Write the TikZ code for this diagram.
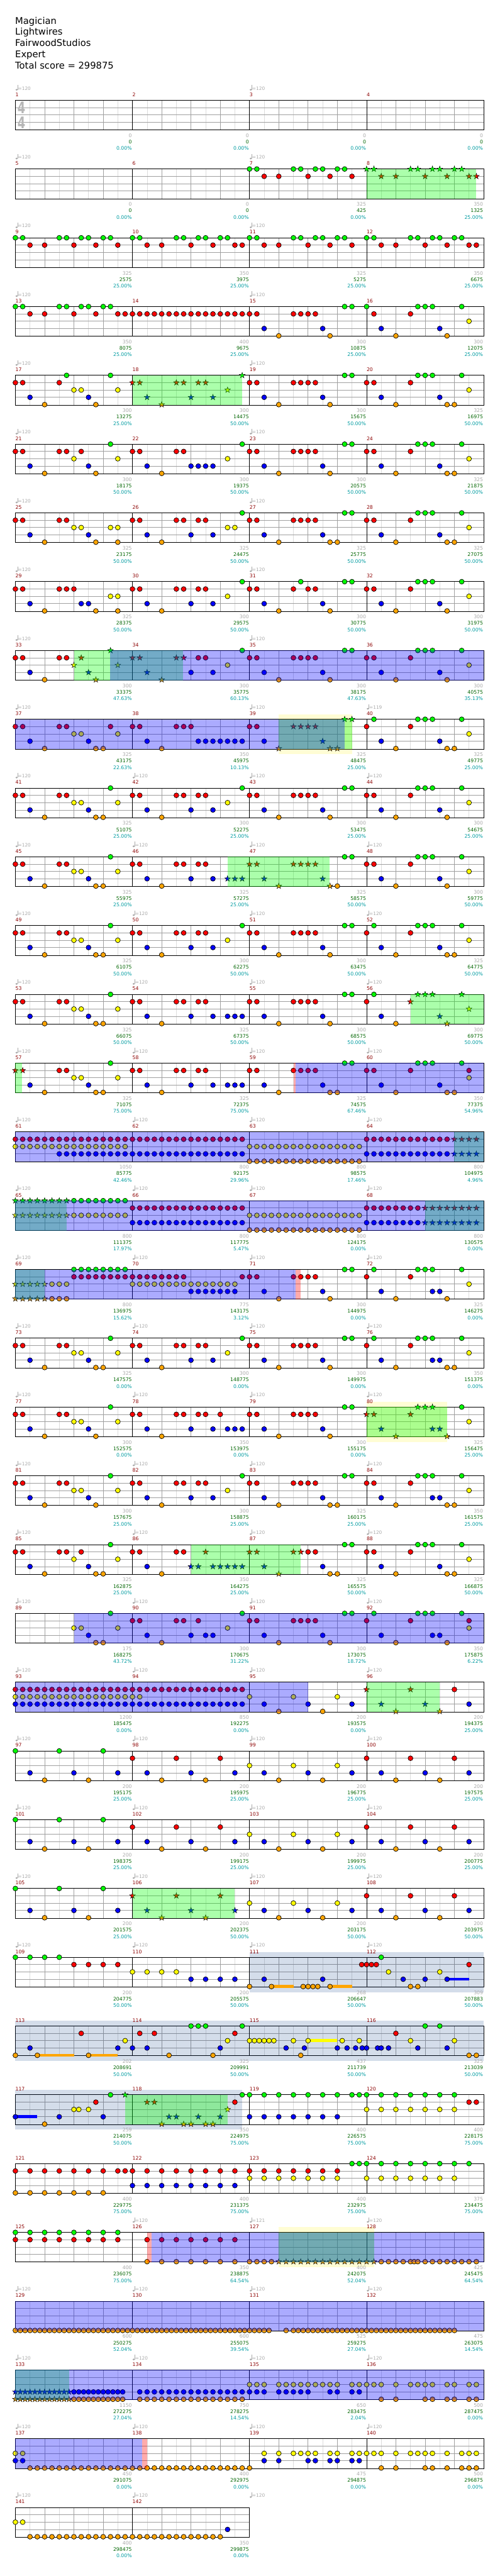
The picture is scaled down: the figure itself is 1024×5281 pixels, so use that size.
\documentclass[tikz,border=0pt]{standalone}
\usepackage{fontspec}
\setmainfont{DejaVu Sans}
\definecolor{fretgreen}{RGB}{0,255,0}
\definecolor{fretred}{RGB}{255,0,0}
\definecolor{fretyellow}{RGB}{255,255,0}
\definecolor{fretblue}{RGB}{0,0,255}
\definecolor{fretorange}{RGB}{255,165,0}
\definecolor{beatgray}{RGB}{160,160,160}
\definecolor{halfgray}{RGB}{220,220,220}
\definecolor{basegray}{RGB}{169,169,169}
\definecolor{scoregreen}{RGB}{0,100,0}
\definecolor{pcteal}{RGB}{0,155,160}
\definecolor{barred}{RGB}{139,0,0}
\definecolor{soloblue}{RGB}{0,51,128}
\tikzset{
  laneline/.style={draw=beatgray, line width=0.9pt},
  beatline/.style={draw=beatgray, line width=0.8pt},
  halfline/.style={draw=halfgray, line width=0.8pt},
  barline/.style={draw=black, line width=0.8pt},
  staffbox/.style={draw=black, line width=1.2pt},
  gem/.style={draw=black, line width=0.9pt, fill=#1},
  gemstar/.style={draw=black, line width=0.6pt, fill=#1},
  phrasezone/.style={fill=green, fill opacity=0.33},
  spzone/.style={fill=blue, fill opacity=0.33},
  leadzone/.style={fill=red, fill opacity=0.33},
  solozone/.style={fill=soloblue, fill opacity=0.17},
  hintzone/.style={fill=yellow, fill opacity=0.17},
  basetxt/.style={font=\fontsize{10}{10}\selectfont, text=basegray, inner sep=0pt, anchor=base east},
  scoretxt/.style={font=\fontsize{10}{10}\selectfont, text=scoregreen, inner sep=0pt, anchor=base east},
  pcttxt/.style={font=\fontsize{10}{10}\selectfont, text=pcteal, inner sep=0pt, anchor=base east},
  bartxt/.style={font=\fontsize{10}{10}\selectfont, text=barred, inner sep=0pt, anchor=base west},
  tempotxt/.style={font=\fontsize{9.5}{10}\selectfont, text=basegray, inner sep=0pt, anchor=base west},
  headtxt/.style={font=\fontsize{19}{23}\selectfont, inner sep=0pt, anchor=base west},
  sigtxt/.style={font=\bfseries\fontsize{33}{33}\selectfont, text=basegray!85, inner sep=0pt, transform shape, xscale=0.7}
}
\newcommand{\staff}[2]{%
  \pgfmathsetmacro\rowtop{205.5+141*#1}%
  \foreach \beat in {2,6,...,#2} \draw[halfline] (31.5+15*\beat,\rowtop) -- (31.5+15*\beat,\rowtop+61);
  \foreach \beat in {4,8,...,#2} \draw[beatline] (31.5+15*\beat,\rowtop) -- (31.5+15*\beat,\rowtop+61);
  \foreach \lane in {1,2,3} \draw[laneline] (31.5,\rowtop+15*\lane) -- (31.5+15*#2,\rowtop+15*\lane);
  \foreach \beat in {16,32,...,#2} \draw[barline] (31.5+15*\beat,\rowtop) -- (31.5+15*\beat,\rowtop+61);
  \draw[staffbox] (31.5,\rowtop) rectangle (31.5+15*#2,\rowtop+61);}
\newcommand{\gemlane}[3]{%
  \def\gemlist{#3}%
  \ifx\gemlist\empty\else
    \foreach \pos in {#3}{%
      \ifdim\pos pt<\starfrom pt
        \draw[gem=#2] (31.5+15*\pos,\rowtop+15*#1) circle (5);
      \else\ifdim\pos pt>\starto pt
        \draw[gem=#2] (31.5+15*\pos,\rowtop+15*#1) circle (5);
      \else
        \draw[gemstar=#2, shift={(31.5+15*\pos,\rowtop+15*#1)}] (90:6.2pt) -- (126:2.4pt) -- (162:6.2pt) -- (198:2.4pt) -- (234:6.2pt) -- (270:2.4pt) -- (306:6.2pt) -- (342:2.4pt) -- (18:6.2pt) -- (54:2.4pt) -- cycle;
      \fi\fi}%
  \fi}
\newcommand{\gems}[8]{%
  \pgfmathsetmacro\rowtop{205.5+141*#1}%
  \def\starfrom{#2}\def\starto{#3}%
  \gemlane{0}{fretgreen}{#4}\gemlane{1}{fretred}{#5}\gemlane{2}{fretyellow}{#6}\gemlane{3}{fretblue}{#7}\gemlane{4}{fretorange}{#8}}
\newcommand{\zone}[4]{\fill[#1] (31.5+15*#3,205.5+141*#2) rectangle (31.5+15*#4,266.5+141*#2);}
\newcommand{\tallzone}[4]{\fill[#1] (31.5+15*#3,195+141*#2) rectangle (31.5+15*#4,277+141*#2);}
\newcommand{\sustain}[5]{\fill[#3] (31.5+15*#4,202.5+141*#1+15*#2) rectangle (31.5+15*#5,208.5+141*#1+15*#2);}
\newcommand{\tally}[2]{%
  \foreach \basept/\scorept/\pct [count=\mi from 0] in {#2}{%
    \pgfmathtruncatemacro\barnum{4*#1+\mi+1}%
    \node[bartxt] (bar-\barnum) at (31.5+240*\mi,197.6+141*#1) {\barnum};
    \node[basetxt] (base-\barnum) at (30.5+240*\mi+240,281.5+141*#1) {\basept};
    \node[scoretxt] (score-\barnum) at (30.5+240*\mi+240,294.5+141*#1) {\scorept};
    \node[pcttxt] (pct-\barnum) at (30.5+240*\mi+240,308+141*#1) {\pct\%};}}
\newcommand{\tempos}[2]{%
  \foreach \slot/\bpm in {#2}{%
    \fill[basegray] (34+240*\slot,184+141*#1) ellipse (2.4 and 1.9);
    \draw[basegray, line width=0.8pt] (35.9+240*\slot,184+141*#1) -- (35.9+240*\slot,174.5+141*#1);
    \node[tempotxt] (tempo-#1-\slot) at (36.8+240*\slot,184.5+141*#1) {=\bpm};}}
\begin{document}
\begin{tikzpicture}[x=1pt,y=-1pt]
  \useasboundingbox (0,0) rectangle (1024,5281);
  \node[headtxt] (song) at (31,49) {Magician};
  \node[headtxt] (artist) at (31,72) {Lightwires};
  \node[headtxt] (charter) at (31,95) {FairwoodStudios};
  \node[headtxt] (level) at (31,118) {Expert};
  \node[headtxt] (total) at (31,141) {Total score = 299875};
  % rows of four bars
  \staff{0}{64}
  \node[sigtxt] (sigtop) at (44,221) {4};
  \node[sigtxt] (sigbot) at (44,251) {4};
  \staff{1}{64}
  \gems{1}{48}{63}{32,33,38,39,41,42,44,45,48,49,54,55,57,58,60,61}{34,36,40,43,46,50,52,56,59,62,63}{}{}{}
  \zone{phrasezone}{1}{48}{62.93}
  \staff{2}{64}
  \gems{2}{-1}{-1}{0,1,6,7,9,10,12,13,16,17,22,23,25,26,28,29,32,33,38,39,41,42,44,45,48,49,54,55,57,58,60,61}{2,4,8,11,14,18,20,24,27,30,31,34,36,40,43,46,50,52,56,59,62,63}{}{}{}
  \staff{3}{64}
  \gems{3}{-1}{-1}{0,1,6,7,9,10,12,13,45,46,48,55,56,57,61}{2,4,8,11,14,15,16,17,...,33,38,39,40,41,49,54}{62}{34,42,50,58}{36,43,52,59}
  \staff{4}{64}
  \gems{4}{16}{31}{7,13,31,45,46,55,56,57,61}{0,1,6,16,17,22,23,25,26,32,33,38,39,40,41,48,49,54}{8,9,14,29,62}{2,10,18,24,27,34,42,50,58}{4,11,20,36,43,52,59,60}
  \zone{phrasezone}{4}{16}{30.95}
  \staff{5}{64}
  \gems{5}{-1}{-1}{13,31,45,46,55,56,57,61}{0,1,6,7,9,16,17,22,23,32,33,38,39,40,41,48,49,54}{8,14,29,62}{2,10,18,24,25,26,27,34,42,50,58}{4,11,20,36,43,52,59,60}
  \staff{6}{64}
  \gems{6}{-1}{-1}{31,45,46,55,56,57,61}{0,1,6,7,16,17,22,23,25,26,32,33,38,39,40,41,48,49,54}{8,9,13,14,29,30,62}{2,10,18,24,27,34,42,50,58}{4,11,14,20,36,43,44,52,59,60}
  \staff{7}{64}
  \gems{7}{-1}{-1}{31,39,45,46,55,56,57,61}{0,1,6,7,8,16,17,22,23,25,26,32,33,38,40,41,48,49,54}{13,14,29,62}{2,9,10,18,24,27,34,42,50,58}{4,11,14,20,36,43,52,59}
  \staff{8}{64}
  \gems{8}{8}{23}{13,31,45,46,55,56,57,61}{0,1,6,7,9,16,17,22,23,25,26,32,33,38,39,40,41,48,49,54}{8,14,29,62}{2,10,18,24,27,34,42,50,58}{4,11,20,36,43,52,59}
  \zone{phrasezone}{8}{8}{22.94}
  \zone{spzone}{8}{12.95}{64}
  \staff{9}{64}
  \tallzone{hintzone}{9}{36}{46}
  \gems{9}{36}{46}{45,46,49,55,56,57,61}{0,1,6,7,13,16,17,22,23,24,32,33,38,39,40,41,48,54}{8,9,14,62}{2,10,18,25,26,...,31,34,42,50,58}{4,11,12,20,36,43,44,52,59,60}
  \zone{phrasezone}{9}{36}{46}
  \zone{spzone}{9}{0}{45}
  \staff{10}{64}
  \gems{10}{-1}{-1}{13,31,45,46,55,56,57,61}{0,1,6,7,16,17,22,23,25,26,32,33,38,39,40,41,48,49,54}{8,9,14,29,62}{2,10,18,24,27,34,42,50,58}{4,11,12,20,36,43,52,59}
  \staff{11}{64}
  \gems{11}{29}{43}{13,45,46,55,56,57,61}{0,1,6,7,16,17,22,23,25,26,32,33,38,39,40,41,48,49,54}{8,9,14,62}{2,10,18,24,27,29,30,31,34,42,50,58}{4,11,12,20,36,43,44,52,59}
  \zone{phrasezone}{11}{29}{42.95}
  \staff{12}{64}
  \gems{12}{-1}{-1}{13,31,45,46,49,55,56,57,61}{0,1,6,7,16,17,22,23,25,26,32,33,38,39,40,41,48,54}{8,9,14,29,62}{2,10,18,24,27,34,42,50,58}{4,11,12,20,36,43,52,59,60}
  \staff{13}{64}
  \gems{13}{54}{64}{13,45,46,49,55,56,57,61}{0,1,6,7,16,17,22,23,25,26,32,33,38,39,40,41,48,54}{8,9,14,62}{2,10,18,24,27,29,30,31,34,42,50,58}{4,11,12,20,36,43,52,59}
  \zone{phrasezone}{13}{54}{64}
  \staff{14}{64}
  \gems{14}{0}{1}{13,45,46,55,56,57,61}{0,1,6,7,16,17,22,23,25,26,32,33,38,39,40,41,48,49,54,62}{8,9,14,62}{2,10,18,24,27,29,30,31,34,42,50,58}{4,11,12,20,36,43,44,52,59,60}
  \zone{phrasezone}{14}{0}{0.9}
  \zone{leadzone}{14}{38}{38.3}
  \zone{spzone}{14}{38.3}{64}
  \staff{15}{64}
  \gems{15}{60}{64}{}{0,1,...,31,48,49,...,63}{0,1,...,15,32,33,...,47}{6,7,...,31,48,49,...,63}{32,33,...,47}
  \zone{phrasezone}{15}{60}{64}
  \zone{spzone}{15}{0}{64}
  \staff{16}{64}
  \gems{16}{0}{7}{0,1,...,15}{16,17,...,31}{0,1,...,15,32,33,...,47}{16,17,...,31}{32,33,...,47}
  \gems{16}{56}{63}{}{48,49,...,63}{}{48,49,...,63}{}
  \zone{phrasezone}{16}{0}{6.97}
  \zone{phrasezone}{16}{56}{64}
  \zone{spzone}{16}{0}{64}
  \staff{17}{64}
  \gems{17}{0}{4}{8,9,...,15,45,46,49,55,56,57,61}{8,9,...,23,31,32,33,38,39,40,41,48,54}{0,1,...,7,16,17,...,30,62}{24,25,...,30,34,42,50,57,58}{0,1,...,7,36,43,52,59}
  \zone{phrasezone}{17}{0}{4}
  \zone{spzone}{17}{0}{38.3}
  \zone{leadzone}{17}{38.3}{39}
  \staff{18}{64}
  \gems{18}{-1}{-1}{13,31,45,46,49,55,56,57,61}{0,1,6,7,16,17,22,23,25,26,32,33,38,39,40,41,48,54}{8,9,14,29,62}{2,10,18,24,27,34,42,50,57,58}{4,11,12,20,36,43,52,59,60}
  \staff{19}{64}
  \tallzone{hintzone}{19}{48}{59}
  \gems{19}{48}{59}{13,45,46,55,56,57,61}{0,1,6,7,16,17,22,23,25,26,28,32,33,38,39,40,41,48,49,54}{8,9,14,62}{2,10,18,24,27,29,30,31,34,42,50,57,58}{4,11,20,36,43,52,59}
  \zone{phrasezone}{19}{48}{59}
  \staff{20}{64}
  \gems{20}{-1}{-1}{13,31,45,46,55,56,57,61}{0,1,6,7,16,17,22,23,25,26,32,33,38,39,40,41,48,49,54}{8,9,14,29,62}{2,10,18,24,27,34,42,50,57,58}{4,11,20,36,43,44,52,59,60}
  \staff{21}{64}
  \gems{21}{24}{39}{13,45,46,55,56,57,61}{0,1,6,7,9,16,17,22,23,26,32,33,38,39,40,41,48,49,54}{8,14,62}{2,10,18,24,25,27,28,29,30,31,34,42,50,58}{4,11,12,20,36,43,44,52,59,60}
  \zone{phrasezone}{21}{24}{38.96}
  \staff{22}{64}
  \gems{22}{-1}{-1}{13,31,45,46,49,55,56,57,61}{16,17,22,23,25,32,33,38,39,40,41,48,54,62}{8,9,14,29,62}{10,18,24,26,27,34,42,50,57,58}{11,12,20,36,43,52,59}
  \zone{spzone}{22}{8}{64}
  \staff{23}{64}
  \gems{23}{48}{58}{}{0,1,...,31,48,54,60}{0,1,...,17,32,38,44}{0,1,...,31,34,40,46,50,56,62}{36,42,52,58}
  \zone{spzone}{23}{0}{40}
  \zone{phrasezone}{23}{48}{58}
  \staff{24}{64}
  \gems{24}{-1}{-1}{0,6,12}{16,22,28,48,54,60}{32,38,44}{2,8,14,18,24,30,34,40,46,50,56,62}{4,10,20,26,36,42,52,58}
  \staff{25}{64}
  \gems{25}{-1}{-1}{0,6,12}{16,22,28,48,54,60}{32,38,44}{2,8,14,18,24,30,34,40,46,50,56,62}{4,10,20,26,36,42,52,58}
  \staff{26}{64}
  \gems{26}{16}{30}{0,6,12}{16,22,28,48,54,60}{32,38,44}{2,8,14,18,24,30,34,40,46,50,56,62}{4,10,20,26,36,42,52,58}
  \zone{phrasezone}{26}{16}{30}
  \staff{27}{64}
  \tallzone{solozone}{27}{32}{64}
  \sustain{27}{3}{fretblue}{59}{62}
  \sustain{27}{4}{fretorange}{35}{38}
  \sustain{27}{4}{fretorange}{43}{46}
  \gems{27}{-1}{-1}{0,2,4,6,50}{8,10,12,14,47.33,48,48.67,49.33,62}{16,18,20,22,51,58}{24,26,28,30,34,42,53,56,59}{32,35,39.33,40,40.67,41.33,43,54,55}
  \staff{28}{64}
  \tallzone{solozone}{28}{0}{64}
  \sustain{28}{2}{fretyellow}{40}{44}
  \sustain{28}{4}{fretorange}{3}{8}
  \sustain{28}{4}{fretorange}{10}{14}
  \gems{28}{-1}{-1}{24,25,26,31,56,58}{9,17,19,30,52}{15,29,32,32.67,33.33,34,34.67,35.33,38,40,44.67,47,54,60}{2,14,16,18,28,37,39.5,44,45.33,46.5,47.4,48,49.5,50,51,55,59}{0,3,10,21,27,39,62,63}
  \staff{29}{64}
  \tallzone{solozone}{29}{0}{30.95}
  \sustain{29}{3}{fretblue}{0}{3}
  \gems{29}{15}{29}{13,15,31,32,34,36,38,40,42,44,46,47,48,50,52,54,56,58,60}{11,18,19,30,62,63}{8,8.67,10,29,48,50,52,54,56,58,60}{0,6,12,21,22,25,28,32,34,36,38,40,42,44}{4,20,23,24,26,27}
  \zone{phrasezone}{29}{15}{29}
  \staff{30}{64}
  \gems{30}{-1}{-1}{46,47,48,50,52,54,56,58,60,62}{0,2,4,6,8,10,12,14,15,16,18,20,22,24,26,28,30,32,34,36,38,40,42,44}{32,34,36,38,40,42,44,48,50,52,54,56,58,60}{16,18,20,22,24,26,28,30}{0,2,4,6,8,10,12}
  \staff{31}{64}
  \tallzone{hintzone}{31}{36}{49}
  \gems{31}{36}{49}{0,2,4,6,8,10,12,14}{0,2,4,6,8,10,12,14,18,20,22,24,26,28,30}{}{}{18,20,22,24,26,28,30,32,33,...,54,54.5,55,56,...,63}
  \zone{phrasezone}{31}{36}{49}
  \zone{leadzone}{31}{18}{18.6}
  \zone{spzone}{31}{18.6}{64}
  \staff{32}{64}
  \gems{32}{-1}{-1}{}{}{}{}{0,0.6667,...,34.7,37,38,38.6667,...,60.01}
  \zone{spzone}{32}{0}{64}
  \staff{33}{64}
  \gems{33}{0}{7.4}{}{}{32,33,34,36,37,38,39,40,41,42,43,44,46,47,48,49,50,52,54,55,56,57,59,60,62,63}{0,0.6667,...,14.7,17,18,...,34,36,37,38,39,40,43,44,46,47}{0,0.6667,...,14.7,17,18,...,31,50,52,56,57,59,60,62,63}
  \zone{phrasezone}{33}{0}{7.33}
  \zone{spzone}{33}{0}{64}
  \staff{34}{64}
  \gems{34}{-1}{-1}{}{}{0,1,34,36,38,39,40,41,43,44,46,47,48,49,50,52,54,55,56,57,59,61,62,63}{0,1,34,36,40,41,43,44,46,47}{2,3,...,32,50,52,56,57,59,61,62,63}
  \zone{spzone}{34}{0}{17.3}
  \zone{leadzone}{34}{17.3}{18}
  \staff{35}{32}
  \gems{35}{-1}{-1}{}{}{0,1}{29}{2,3,...,28}
  % tempo marks
  \foreach \rw in {0,1,...,8}{\tempos{\rw}{0/120,2/120}}
  \tempos{9}{0/120,2/120,3/119}
  \foreach \rw in {10,11,...,27}{\tempos{\rw}{0/120,1/120,2/120,3/120}}
  \tempos{31}{1/120,2/121,3/120}
  \foreach \rw in {32,33,34}{\tempos{\rw}{0/120,1/120,2/120,3/120}}
  \tempos{35}{0/120,1/120,2/120}
  % bar numbers and scores
  \tally{0}{0/0/0.00,0/0/0.00,0/0/0.00,0/0/0.00}
  \tally{1}{0/0/0.00,0/0/0.00,325/425/0.00,350/1325/25.00}
  \tally{2}{325/2575/25.00,350/3975/25.00,325/5275/25.00,350/6675/25.00}
  \tally{3}{350/8075/25.00,400/9675/25.00,300/10875/25.00,300/12075/25.00}
  \tally{4}{300/13275/25.00,300/14475/50.00,300/15675/50.00,325/16975/50.00}
  \tally{5}{300/18175/50.00,300/19375/50.00,300/20575/50.00,325/21875/50.00}
  \tally{6}{325/23175/50.00,325/24475/50.00,325/25775/50.00,325/27075/50.00}
  \tally{7}{325/28375/50.00,300/29575/50.00,300/30775/50.00,300/31975/50.00}
  \tally{8}{300/33375/47.63,300/35775/60.13,300/38175/47.63,300/40575/35.13}
  \tally{9}{325/43175/22.63,350/45975/10.13,325/48475/25.00,325/49775/25.00}
  \tally{10}{325/51075/25.00,300/52275/25.00,300/53475/25.00,300/54675/25.00}
  \tally{11}{325/55975/25.00,325/57275/25.00,325/58575/50.00,300/59775/50.00}
  \tally{12}{325/61075/50.00,300/62275/50.00,300/63475/50.00,325/64775/50.00}
  \tally{13}{325/66075/50.00,325/67375/50.00,300/68575/50.00,300/69775/50.00}
  \tally{14}{325/71075/75.00,325/72375/75.00,325/74575/67.46,350/77375/54.96}
  \tally{15}{1050/85775/42.46,800/92175/29.96,800/98575/17.46,800/104975/4.96}
  \tally{16}{800/111375/17.97,800/117775/5.47,800/124175/0.00,800/130575/0.00}
  \tally{17}{800/136975/15.62,775/143175/3.12,300/144975/0.00,325/146275/0.00}
  \tally{18}{325/147575/0.00,300/148775/0.00,300/149975/0.00,350/151375/0.00}
  \tally{19}{300/152575/0.00,350/153975/0.00,300/155175/0.00,325/156475/25.00}
  \tally{20}{300/157675/25.00,300/158875/25.00,325/160175/25.00,350/161575/25.00}
  \tally{21}{325/162875/25.00,350/164275/25.00,325/165575/50.00,325/166875/50.00}
  \tally{22}{175/168275/43.72,300/170675/31.22,300/173075/18.72,350/175875/6.22}
  \tally{23}{1200/185475/0.00,850/192275/0.00,200/193575/0.00,200/194375/25.00}
  \tally{24}{200/195175/25.00,200/195975/25.00,200/196775/25.00,200/197575/25.00}
  \tally{25}{200/198375/25.00,200/199175/25.00,200/199975/25.00,200/200775/25.00}
  \tally{26}{200/201575/25.00,200/202375/50.00,200/203175/50.00,200/203975/50.00}
  \tally{27}{200/204775/50.00,200/205575/50.00,268/206647/50.00,309/207883/50.00}
  \tally{28}{202/208691/50.00,325/209991/50.00,437/211739/50.00,325/213039/50.00}
  \tally{29}{259/214075/50.00,350/224975/75.00,400/226575/75.00,400/228175/75.00}
  \tally{30}{400/229775/75.00,400/231375/75.00,400/232975/75.00,375/234475/75.00}
  \tally{31}{400/236075/75.00,350/238875/64.54,400/242075/52.04,425/245475/64.54}
  \tally{32}{600/250275/52.04,600/255075/39.54,525/259275/27.04,475/263075/14.54}
  \tally{33}{1150/272275/27.04,750/278275/14.54,650/283475/2.04,500/287475/0.00}
  \tally{34}{450/291075/0.00,400/292975/0.00,475/294875/0.00,500/296875/0.00}
  \tally{35}{400/298475/0.00,350/299875/0.00}
\end{tikzpicture}
\end{document}
